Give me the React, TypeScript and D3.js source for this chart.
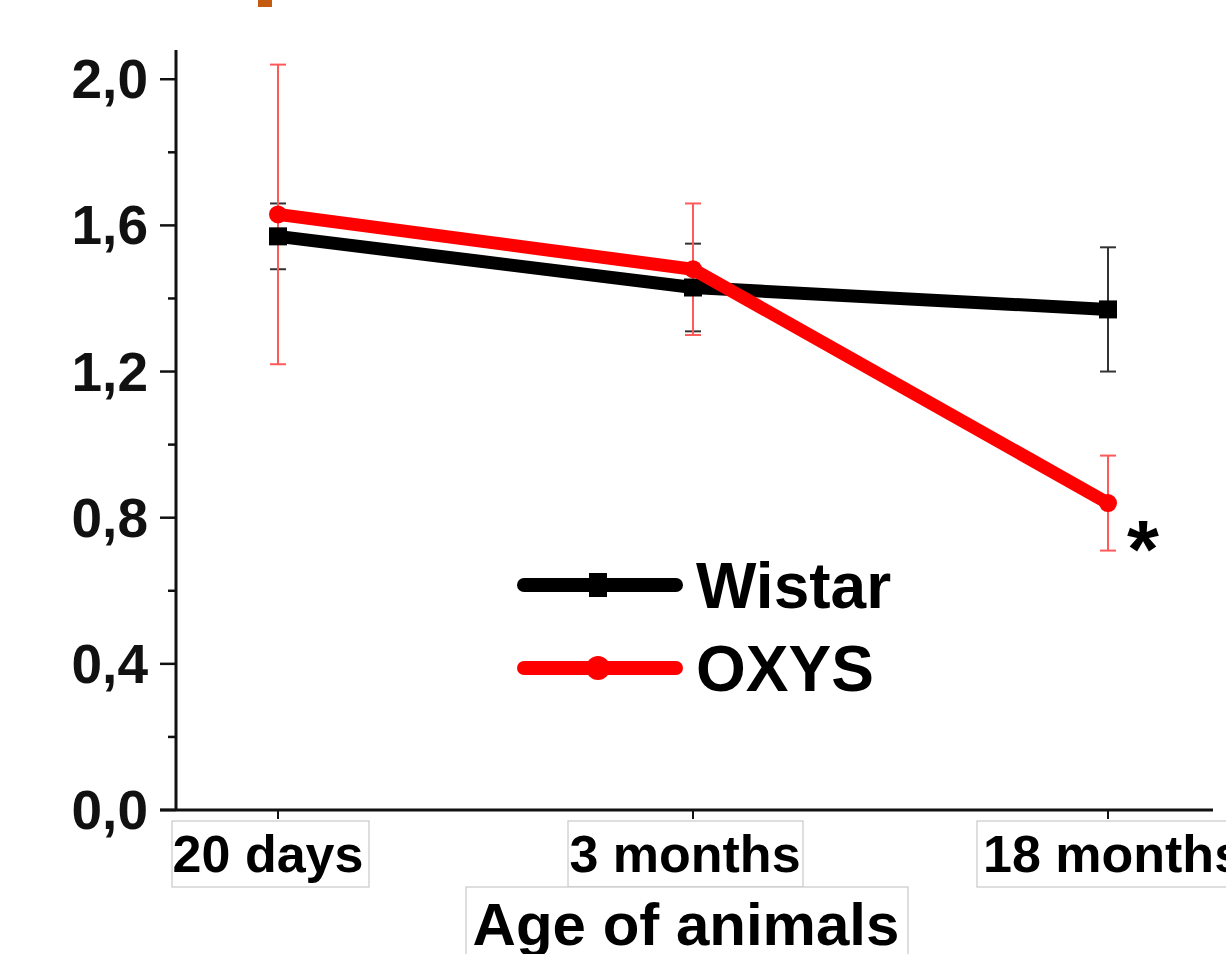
import React, { useRef, useEffect } from 'react';
import * as d3 from 'd3';

// data
const ages = ['20 days', '3 months', '18 months'];
const wistarMean = [1.57, 1.43, 1.37];
const wistarErr = [0.09, 0.12, 0.17];
const oxysMean = [1.63, 1.48, 0.84];
const oxysErr = [0.41, 0.18, 0.13];
const yTicks = [0, 0.4, 0.8, 1.2, 1.6, 2.0];
const seriesNames = ['Wistar', 'OXYS'];

const W = 1226;
const H = 954;
const FONT = 'Liberation Sans, Arial, sans-serif';

const App = () => {
  const svgRef = useRef<SVGSVGElement>(null);

  useEffect(() => {
    const svg = d3.select(svgRef.current);
    svg.selectAll('*').remove();

    const x = d3.scalePoint<string>().domain(ages).range([278, 1108]);
    const y = d3.scaleLinear().domain([0, 2.08]).range([810, 50]);

    // small orange mark at the top (cropped from a larger figure)
    svg.append('rect').attr('x', 258).attr('y', 0).attr('width', 14).attr('height', 7).attr('fill', '#c55a11');

    // y axis
    const yAxis = svg.append('g').attr('transform', 'translate(176,0)');
    yAxis.append('line').attr('x1', 0).attr('x2', 0).attr('y1', y(2.08)).attr('y2', y(0))
      .attr('stroke', '#111').attr('stroke-width', 3);
    d3.range(0, 2.01, 0.2).forEach((v, i) => {
      yAxis.append('line')
        .attr('x1', i % 2 === 0 ? -16 : -8).attr('x2', 0)
        .attr('y1', y(v)).attr('y2', y(v))
        .attr('stroke', '#111').attr('stroke-width', 2.5);
    });
    yAxis.selectAll('text.ylab')
      .data(yTicks)
      .enter()
      .append('text')
      .attr('class', 'ylab')
      .attr('x', -28)
      .attr('y', d => y(d) + 19)
      .attr('text-anchor', 'end')
      .attr('font-family', FONT)
      .attr('font-weight', 'bold')
      .attr('font-size', 55)
      .attr('fill', '#111')
      .text(d => d.toFixed(1).replace('.', ','));

    // x axis
    svg.append('line').attr('x1', 160).attr('x2', 1213).attr('y1', 810).attr('y2', 810)
      .attr('stroke', '#111').attr('stroke-width', 3);
    const xg = svg.append('g');
    ages.forEach(a => {
      xg.append('line').attr('x1', x(a)!).attr('x2', x(a)!).attr('y1', 810).attr('y2', 819)
        .attr('stroke', '#111').attr('stroke-width', 2);
    });

    const boxedLabel = (txt: string, tx: number, baseline: number, size: number, anchor: string) => {
      const g = svg.append('g');
      const rect = g.append('rect');
      g.append('text')
        .attr('x', tx)
        .attr('y', baseline)
        .attr('text-anchor', anchor)
        .attr('font-family', FONT)
        .attr('font-weight', 'bold')
        .attr('font-size', size)
        .attr('fill', '#000')
        .text(txt);
      return rect;
    };

    const labelBoxes: [string, number, string, number, number][] = [
      // text, textX, anchor, boxX, boxW
      [ages[0], 268, 'middle', 172, 197],
      [ages[1], 685, 'middle', 568, 235],
      [ages[2], 983, 'start', 977, 260],
    ];
    labelBoxes.forEach(([txt, tx, anchor, bx, bw]) => {
      boxedLabel(txt, tx, 872, 52, anchor)
        .attr('x', bx).attr('y', 821).attr('width', bw).attr('height', 66)
        .attr('fill', '#fff').attr('stroke', '#c8c8c8').attr('stroke-width', 1.2);
    });
    boxedLabel('Age of animals', 686, 945, 60, 'middle')
      .attr('x', 466).attr('y', 887).attr('width', 442).attr('height', 80)
      .attr('fill', '#fff').attr('stroke', '#c8c8c8').attr('stroke-width', 1.2);

    const series = [
      { name: seriesNames[0], mean: wistarMean, err: wistarErr, color: '#000', errColor: '#333', marker: 'square' },
      { name: seriesNames[1], mean: oxysMean, err: oxysErr, color: '#ff0000', errColor: '#ff5a5a', marker: 'circle' },
    ];

    // error bars
    series.forEach(s => {
      const g = svg.append('g').attr('stroke', s.errColor).attr('stroke-width', 2);
      ages.forEach((a, i) => {
        const cx = x(a)!;
        const top = y(s.mean[i] + s.err[i]);
        const bot = y(s.mean[i] - s.err[i]);
        g.append('line').attr('x1', cx).attr('x2', cx).attr('y1', top).attr('y2', bot);
        g.append('line').attr('x1', cx - 8).attr('x2', cx + 8).attr('y1', top).attr('y2', top);
        g.append('line').attr('x1', cx - 8).attr('x2', cx + 8).attr('y1', bot).attr('y2', bot);
      });
    });

    const line = d3.line<number>().x((_, i) => x(ages[i])!).y(d => y(d));

    series.forEach(s => {
      svg.append('path')
        .attr('d', line(s.mean))
        .attr('fill', 'none')
        .attr('stroke', s.color)
        .attr('stroke-width', 13)
        .attr('stroke-linejoin', 'miter');
      ages.forEach((a, i) => {
        if (s.marker === 'square') {
          svg.append('rect').attr('x', x(a)! - 9).attr('y', y(s.mean[i]) - 9)
            .attr('width', 18).attr('height', 18).attr('fill', s.color);
        } else {
          svg.append('circle').attr('cx', x(a)!).attr('cy', y(s.mean[i])).attr('r', 9).attr('fill', s.color);
        }
      });
    });

    // significance mark
    svg.append('text')
      .attr('x', x(ages[2])! + 19)
      .attr('y', 577)
      .attr('font-family', FONT)
      .attr('font-weight', 'bold')
      .attr('font-size', 82)
      .attr('fill', '#000')
      .text('*');

    // legend
    const legend = svg.append('g');
    series.forEach((s, i) => {
      const ly = 585 + i * 83;
      legend.append('line').attr('x1', 524).attr('x2', 676).attr('y1', ly).attr('y2', ly)
        .attr('stroke', s.color).attr('stroke-width', 14).attr('stroke-linecap', 'round');
      if (s.marker === 'square') {
        legend.append('rect').attr('x', 589).attr('y', ly - 12).attr('width', 18).attr('height', 24).attr('fill', s.color);
      } else {
        legend.append('circle').attr('cx', 598).attr('cy', ly).attr('r', 12).attr('fill', s.color);
      }
      legend.append('text')
        .attr('x', 696)
        .attr('y', ly + 23)
        .attr('font-family', FONT)
        .attr('font-weight', 'bold')
        .attr('font-size', 64)
        .attr('fill', '#000')
        .text(s.name);
    });
  }, []);

  return (
    <svg
      ref={svgRef}
      width={W}
      height={H}
      style={{ position: 'absolute', left: 0, top: 0, background: '#fff' }}
    ></svg>
  );
};

export default App;
